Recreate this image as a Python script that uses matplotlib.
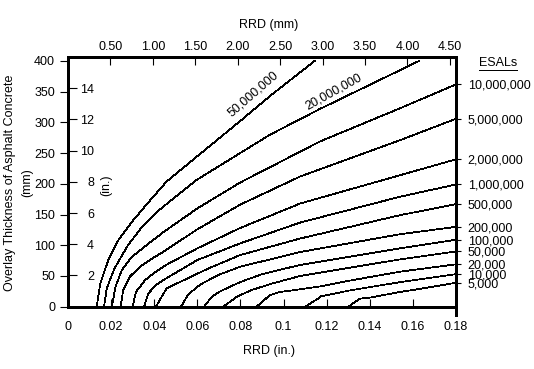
import numpy as np
import matplotlib
matplotlib.use('Agg')
import matplotlib.pyplot as plt
from matplotlib.lines import Line2D

plt.rcParams['font.family'] = ['Liberation Sans', 'DejaVu Sans']
plt.rcParams['font.size'] = 9

# ---------------- data ----------------
# RRD (in.) vs overlay thickness (mm) for each ESAL level
rrd_50M = [0.0133, 0.0150, 0.0187, 0.0233, 0.0296, 0.0388, 0.0458, 0.0600, 0.0798, 0.0937, 0.1144]
thk_50M = [0, 38, 76, 108, 138, 176, 204, 245, 302, 343, 400]

rrd_20M = [0.0167, 0.0180, 0.0215, 0.0278, 0.0348, 0.0425, 0.0595, 0.0798, 0.0937, 0.1169, 0.1540, 0.1628]
thk_20M = [0, 30, 62, 100, 132, 158, 206, 250, 280, 322, 385, 400]

rrd_10M = [0.0203, 0.0221, 0.0250, 0.0296, 0.0356, 0.0445, 0.0600, 0.0798, 0.1169, 0.1540, 0.1800]
thk_10M = [0, 33, 60, 81, 98, 122, 160, 202, 269, 323, 362]

rrd_5M = [0.0244, 0.0256, 0.0287, 0.0334, 0.0388, 0.0445, 0.0600, 0.0798, 0.1077, 0.1540, 0.1800]
thk_5M = [0, 27, 49, 65, 78, 90, 126, 166, 212, 271, 306]

rrd_2M = [0.0300, 0.0315, 0.0357, 0.0403, 0.0450, 0.0600, 0.0798, 0.1077, 0.1540, 0.1800]
thk_2M = [0, 24, 43, 56, 67, 95, 128, 168, 214, 240]

rrd_1M = [0.0353, 0.0373, 0.0411, 0.0450, 0.0600, 0.0798, 0.1077, 0.1540, 0.1800]
thk_1M = [0, 22, 36, 45, 76, 103, 137, 179, 199]

rrd_500K = [0.0408, 0.0431, 0.0458, 0.0542, 0.0650, 0.0798, 0.1077, 0.1540, 0.1800]
thk_500K = [0, 14, 30, 44, 62, 84, 111, 149, 167]

rrd_200K = [0.0524, 0.0558, 0.0613, 0.0700, 0.0798, 0.1077, 0.1540, 0.1800]
thk_200K = [0, 20, 36, 52, 65, 89, 118, 130]

rrd_100K = [0.0631, 0.0667, 0.0700, 0.0798, 0.0900, 0.1077, 0.1540, 0.1800]
thk_100K = [0, 16, 24, 40, 53, 68, 95, 109]

rrd_50K = [0.0719, 0.0760, 0.0782, 0.0850, 0.0950, 0.1077, 0.1540, 0.1800]
thk_50K = [0, 10, 16, 27, 38, 50, 77, 90]

rrd_20K = [0.0875, 0.0937, 0.0984, 0.1030, 0.1169, 0.1300, 0.1540, 0.1800]
thk_20K = [0, 19, 24, 26, 33, 42, 57, 69]

rrd_10K = [0.1100, 0.1155, 0.1175, 0.1300, 0.1540, 0.1800]
thk_10K = [0, 12, 17, 26, 40, 53]

rrd_5K = [0.1300, 0.1354, 0.1404, 0.1540, 0.1650, 0.1800]
thk_5K = [0, 13, 15, 24, 30, 39]

# curves labelled on the right axis (those ending at RRD = 0.18 in.)
right_labels = ['10,000,000', '5,000,000', '2,000,000', '1,000,000', '500,000',
                '200,000', '100,000', '50,000', '20,000', '10,000', '5,000']
inline_labels = ['50,000,000', '20,000,000']

x_ticks = [0, 0.02, 0.04, 0.06, 0.08, 0.10, 0.12, 0.14, 0.16, 0.18]
x_ticklabels = ['0', '0.02', '0.04', '0.06', '0.08', '0.1', '0.12', '0.14', '0.16', '0.18']
y_ticks = [0, 50, 100, 150, 200, 250, 300, 350, 400]
mm_ticks = [0.5, 1.0, 1.5, 2.0, 2.5, 3.0, 3.5, 4.0, 4.5]
in_ticks = [2, 4, 6, 8, 10, 12, 14]

curves = [(rrd_50M, thk_50M), (rrd_20M, thk_20M), (rrd_10M, thk_10M), (rrd_5M, thk_5M),
          (rrd_2M, thk_2M), (rrd_1M, thk_1M), (rrd_500K, thk_500K), (rrd_200K, thk_200K),
          (rrd_100K, thk_100K), (rrd_50K, thk_50K), (rrd_20K, thk_20K), (rrd_10K, thk_10K),
          (rrd_5K, thk_5K)]

# ---------------- figure ----------------
W, H = 534, 369
fig = plt.figure(figsize=(W / 100, H / 100), dpi=100, facecolor='white')
ax = fig.add_axes([68 / W, 1 - 306.7 / H, 388 / W, 250 / H])

for rrd, thk in curves:
    ax.plot(rrd, thk, color='black', lw=0.55, antialiased=False)

ax.set_xlim(0, 0.18)
ax.set_ylim(0, 407)

for s in ax.spines.values():
    s.set_linewidth(0.8)
    s.set_antialiased(False)
ax.spines['right'].set_bounds(-14, 407)

ax.set_xticks(x_ticks)
ax.set_xticklabels(x_ticklabels)
ax.tick_params(axis='x', direction='in', length=5.8, width=0.8, pad=10, top=False)
ax.set_yticks(y_ticks)
ax.tick_params(axis='y', direction='out', length=5.8, width=0.8, pad=3.5, right=False)

in2mm = lambda v: np.asarray(v) * 25.4
mm2in = lambda v: np.asarray(v) / 25.4

# top axis in mm
secx = ax.secondary_xaxis('top', functions=(in2mm, mm2in))
secx.set_xticks(mm_ticks)
secx.set_xticklabels([f'{v:.2f}' for v in mm_ticks])
secx.tick_params(direction='in', length=5.8, width=0.8, pad=2.5)
for s in secx.spines.values():
    s.set_linewidth(0.8)

# inner inch scale on the left
secl = ax.secondary_yaxis(0, functions=(mm2in, in2mm))
secl.set_alignment('right')
secl.set_yticks(in_ticks)
secl.set_yticklabels([str(v) for v in in_ticks])
secl.tick_params(direction='out', length=6.5, width=0.8, pad=12.2)
for s in secl.spines.values():
    s.set_linewidth(0.8)
for t in secl.get_yticklabels():
    t.set_ha('right')

# right ESAL labels at curve ends
end_vals = [c[1][-1] for c in curves[2:]]
secr = ax.secondary_yaxis('right')
secr.set_yticks(end_vals)
secr.set_yticklabels(right_labels)
secr.tick_params(direction='out', length=3.6, width=0.8, pad=4.8)
for s in secr.spines.values():
    s.set_linewidth(0.8)

# inline labels for the two highest ESAL curves
for (rrd, thk), lab, xl, rot, off in zip(curves[:2], inline_labels,
                                         [0.0880, 0.1239], [41, 29], [(-4, 12), (-2, 10)]):
    yl = np.interp(xl, rrd, thk)
    ax.annotate(lab, xy=(xl, yl), xytext=off, textcoords='offset pixels',
                rotation=rot, ha='center', va='center', rotation_mode='anchor')

ax.text((106 - 68) / 388, (306.7 - 185) / 250, '(in.)', transform=ax.transAxes,
        rotation=90, ha='center', va='center')

fig.text(269 / W, 1 - 25 / H, 'RRD (mm)', ha='center', va='center')
fig.text(269 / W, 1 - 351 / H, 'RRD (in.)', ha='center', va='center')
fig.text(18.5 / W, 1 - 183 / H, 'Overlay Thickness of Asphalt Concrete\n(mm)',
         rotation=90, ha='center', va='center', multialignment='center', linespacing=1.5)
esal = fig.text(498 / W, 1 - 63 / H, 'ESALs', ha='center', va='center')

# underline the ESALs heading
fig.canvas.draw()
bb = esal.get_window_extent(renderer=fig.canvas.get_renderer())
uy = (bb.y0 - 0.5) / H
fig.add_artist(Line2D([bb.x0 / W, bb.x1 / W], [uy, uy], color='black', lw=0.6,
                      transform=fig.transFigure, antialiased=False))

fig.savefig('out.png', dpi=100, facecolor='white')
